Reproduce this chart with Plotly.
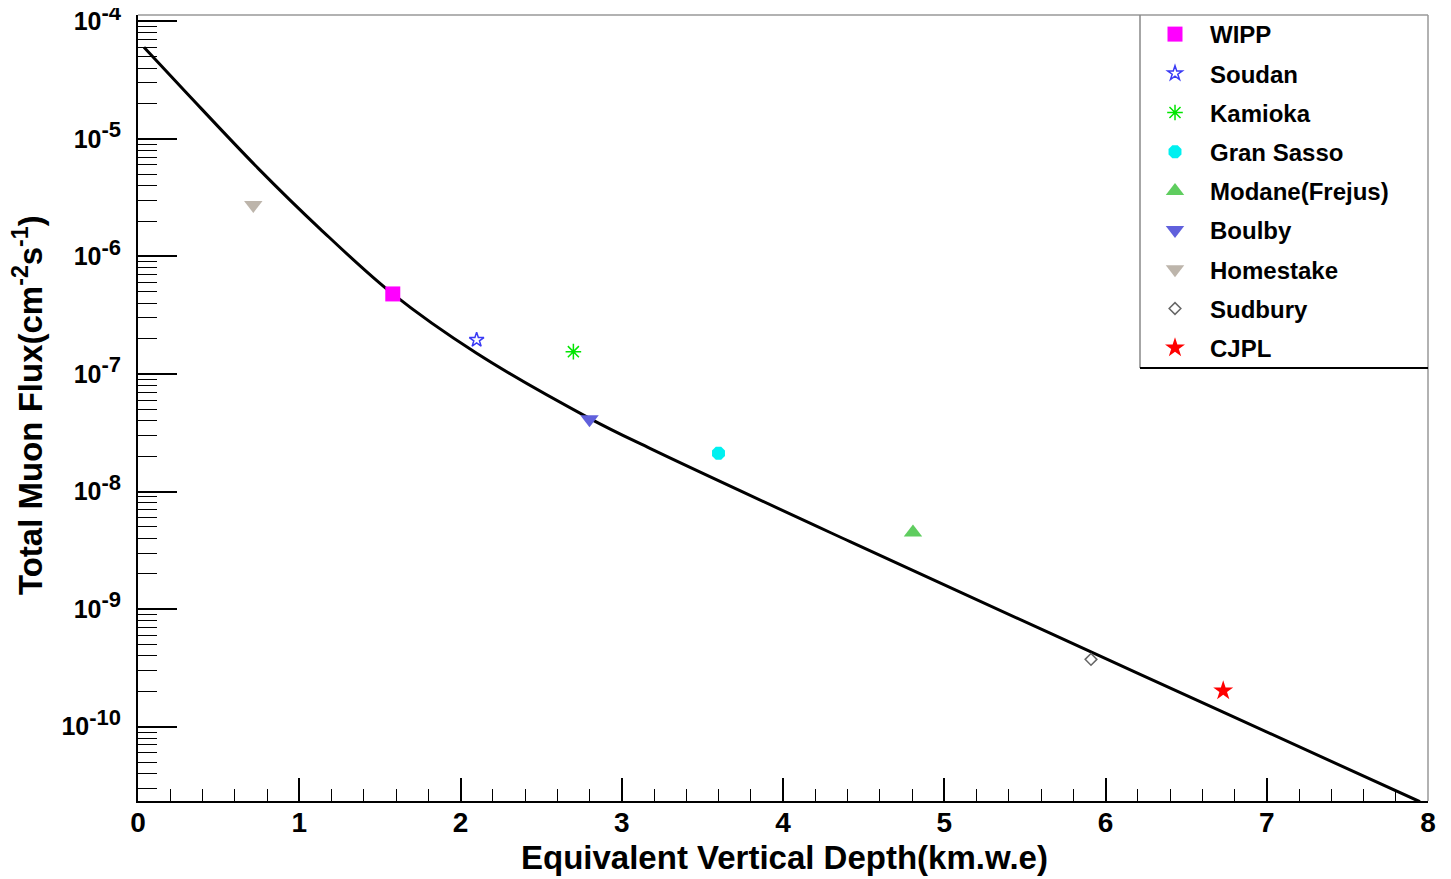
import plotly.graph_objects as go

# ---- data ----
curve_depth = [0.037, 0.30, 0.745, 1.129, 1.58, 2.10, 2.80, 3.175, 4.416, 5.656, 6.73, 7.95]
curve_flux = [6.01e-5, 2.47e-5, 5.62e-6, 1.72e-6, 4.80e-7, 1.50e-7, 4.20e-8, 2.33e-8,
              3.75e-9, 6.24e-10, 1.33e-10, 2.30e-11]

labs = ["WIPP", "Soudan", "Kamioka", "Gran Sasso", "Modane(Frejus)", "Boulby", "Homestake", "Sudbury", "CJPL"]
lab_depth = [1.58, 2.10, 2.70, 3.60, 4.806, 2.80, 0.715, 5.91, 6.73]
lab_flux = [4.80e-7, 1.95e-7, 1.55e-7, 2.12e-8, 4.49e-9, 4.12e-8, 2.74e-6, 3.74e-10, 2.02e-10]

y_tick_vals = [1e-4, 1e-5, 1e-6, 1e-7, 1e-8, 1e-9, 1e-10]
y_tick_exp = ["-4", "-5", "-6", "-7", "-8", "-9", "-10"]
y_minor_vals = [m * d for d in [1e-11, 1e-10, 1e-9, 1e-8, 1e-7, 1e-6, 1e-5] for m in range(2, 10)]

lab_symbols = ["square", "star-open", "asterisk-open", "octagon", "triangle-up", "triangle-down",
               "triangle-down", "diamond-open", "star"]
lab_colors = ["#ff00ff", "#3a3af5", "#00e600", "#00f0f0", "#5fcd5f", "#6060dc", "#bdb5ab", "#666666", "#ff0000"]
lab_sizes = [15, 11, 13, 14, 16, 16, 16, 9, 15]

FONT = "Liberation Sans"

y_tick_text = ["10<sup><span style='font-size:22px'>%s</span></sup>" % e for e in y_tick_exp]

# page body has an 8px margin -> figure is shifted by 8px; compensate
W, H = 1435, 871
L, T, R, B = 130, 7, 15, 78
PW, PH = W - L - R, H - T - B  # 1290 x 786

fig = go.Figure()
fig.add_trace(go.Scatter(x=curve_depth, y=curve_flux, mode="lines",
                         line=dict(color="black", width=3, shape="spline", smoothing=1.0),
                         showlegend=False, hoverinfo="skip"))

for i, name in enumerate(labs):
    open_sym = name in ("Soudan", "Kamioka", "Sudbury")
    fig.add_trace(go.Scatter(
        x=[lab_depth[i]], y=[lab_flux[i]], mode="markers", name=name,
        legendgroup=name,
        marker=dict(symbol=lab_symbols[i], size=lab_sizes[i], color=lab_colors[i],
                    line=dict(width=1.5 if open_sym else 0, color=lab_colors[i]))))

fig.update_layout(
    width=W, height=H,
    margin=dict(l=L, r=R, t=T, b=B, autoexpand=False),
    paper_bgcolor="white", plot_bgcolor="white",
    font=dict(family=FONT, color="black"),
    legend=dict(x=(1140 - 138) / PW, y=1 + 3 / PH, xanchor="left", yanchor="top",
                bgcolor="rgba(0,0,0,0)", borderwidth=0,
                font=dict(size=24, family=FONT, color="black", weight="bold"),
                itemwidth=60, tracegroupgap=5),
)

fig.update_xaxes(range=[0, 8], dtick=1, tick0=0, ticks="inside", ticklen=23, tickwidth=1.5,
                 tickcolor="black", showgrid=False, zeroline=False, automargin=False,
                 showline=True, linecolor="black", linewidth=2,
                 tickfont=dict(size=28, family=FONT, weight="bold"), ticklabelstandoff=-5,
                 minor=dict(dtick=0.2, ticks="inside", ticklen=12, tickcolor="black", tickwidth=1.2))

fig.update_yaxes(type="log", range=[-10.632, -3.946], tickmode="array",
                 tickvals=y_tick_vals, ticktext=y_tick_text,
                 ticks="inside", ticklen=39, tickwidth=1.5, tickcolor="black", automargin=False,
                 showgrid=False, zeroline=False, showline=True, linecolor="black", linewidth=2,
                 tickfont=dict(size=25, family=FONT, weight="bold"), ticklabelstandoff=10,
                 ticklabeloverflow="allow",
                 minor=dict(tickmode="array", tickvals=y_minor_vals, ticks="inside", ticklen=19,
                            tickcolor="black", tickwidth=1.2))

# frame top/right in gray
fig.add_shape(type="line", xref="paper", yref="paper", x0=0, x1=1, y0=1, y1=1,
              line=dict(color="#999999", width=1.5))
fig.add_shape(type="line", xref="paper", yref="paper", x0=1, x1=1, y0=0, y1=1,
              line=dict(color="#999999", width=1.5))

# legend box (ROOT-style: gray left edge, black bottom edge)
lx0 = (1140 - 138) / PW
ly0 = 1 - (368 - 15) / PH
fig.add_shape(type="rect", xref="paper", yref="paper", x0=lx0, x1=1, y0=ly0, y1=1,
              fillcolor="white", line=dict(width=0), layer="below")
fig.add_shape(type="line", xref="paper", yref="paper", x0=lx0, x1=lx0, y0=ly0, y1=1,
              line=dict(color="#888888", width=1.5))
fig.add_shape(type="line", xref="paper", yref="paper", x0=lx0, x1=1, y0=ly0, y1=ly0,
              line=dict(color="black", width=2))

fig.add_annotation(text="<b>Equivalent Vertical Depth(km.w.e)</b>", xref="paper", yref="paper",
                   x=(784 - 138) / PW, y=-(857 - 801) / PH, xanchor="center", yanchor="middle",
                   showarrow=False, font=dict(size=33, family=FONT, color="black"))
fig.add_annotation(text="<b>Total Muon Flux(cm<sup>-2</sup>s<sup>-1</sup>)</b>", xref="paper", yref="paper",
                   x=-(138 - 28) / PW, y=1 - (405 - 15) / PH, xanchor="center", yanchor="middle",
                   textangle=-90, showarrow=False, font=dict(size=33, family=FONT, color="black"))

fig.write_html("out.html")
